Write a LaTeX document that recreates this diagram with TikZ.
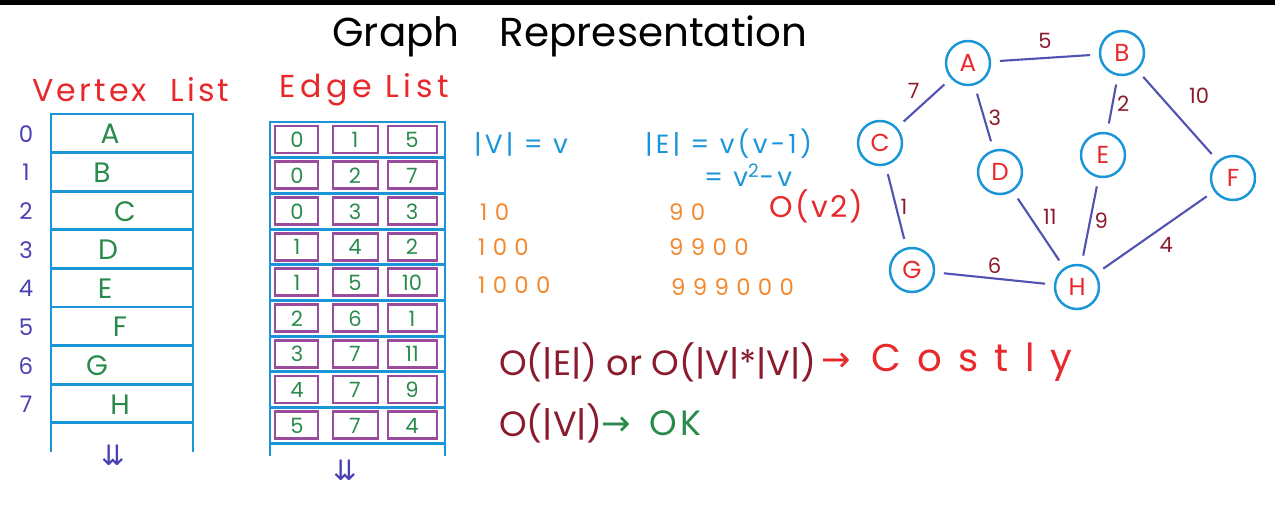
\documentclass[tikz,border=0pt]{standalone}
\usepackage{fontspec}
\setmainfont{Poppins}
\newfontfamily\symfont{DejaVu Sans}
\definecolor{lineblue}{HTML}{1A96D8}
\definecolor{redtxt}{HTML}{E8292B}
\definecolor{greentxt}{HTML}{2A8A4C}
\definecolor{idxblue}{HTML}{4A40B4}
\definecolor{cellpurple}{HTML}{9A4C9C}
\definecolor{orangetxt}{HTML}{F2892E}
\definecolor{darkred}{HTML}{8A1A2C}
\definecolor{edgeblue}{HTML}{5252B2}
\newcommand{\fs}[1]{\fontsize{#1}{#1}\selectfont}
\newcommand{\spc}[1]{\addfontfeature{LetterSpace=#1}}
\tikzset{
  tbl/.style={draw=lineblue, line width=1.6pt},
  cell/.style={draw=cellpurple, line width=1.6pt},
  idx/.style={text=idxblue, font=\fs{13}},
  vname/.style={text=greentxt, font=\fs{16}},
  num/.style={text=greentxt, font=\fs{12}},
  head/.style={text=redtxt, font=\fs{18}},
  vtx/.style={circle, draw=lineblue, line width=1.4pt, minimum size=0.88cm, inner sep=0pt, text=redtxt, font=\fs{14}},
  edge/.style={draw=edgeblue, line width=1.2pt, shorten >=5pt, shorten <=5pt},
  wt/.style={text=darkred, font=\fs{12}, inner sep=2pt},
  cyantxt/.style={text=lineblue, font=\fs{15}\spc{12}, inner sep=1pt},
  orng/.style={text=orangetxt, font=\fs{13}\spc{32}},
  bigo/.style={text=darkred, font=\fs{20}}
}
\begin{document}
\begin{tikzpicture}[x=0.02cm, y=-0.02cm]
  \useasboundingbox (0,0) rectangle (1275,504);
  \fill[black] (0,0) rectangle (1275,5);
  \node[font=\fs{23}] (title) at (570,36) {Graph\quad Representation};

  % vertex list
  \node[head, font=\fs{18}\spc{10}, anchor=west] (vhead) at (26,90) {Vertex\ \ List};
  \draw[tbl] (51,452) -- (51,114) -- (193,114) -- (193,452);
  \foreach \k in {1,...,8}
    \draw[tbl] (51,{114+38.6*\k}) -- (193,{114+38.6*\k});
  \foreach \i/\l/\dx in {0/A/110,1/B/102,2/C/125,3/D/108,4/E/105,5/F/120,6/G/97,7/H/120}{
    \node[idx] (vi\i) at (26,{134+38.6*\i}) {\i};
    \node[vname] (v\i) at (\dx,{134+38.6*\i}) {\l};
  }
  \node[text=idxblue, font=\symfont\fs{16}] (vdown) at (113,455) {⇊};

  % edge list
  \node[head, font=\fs{18}\spc{15}, anchor=west] (ehead) at (273,90) {Edge\ List};
  \draw[tbl] (270,456) -- (270,122) -- (445,122) -- (445,456);
  \foreach \k in {1,...,9}
    \draw[tbl] (270,{122+35.7*\k}) -- (445,{122+35.7*\k});
  \foreach \r/\a/\b/\c in {0/0/1/5,1/0/2/7,2/0/3/3,3/1/4/2,4/1/5/10,5/2/6/1,6/3/7/11,7/4/7/9,8/5/7/4}{
    \draw[cell] (275,{126+35.7*\r}) rectangle (318,{153+35.7*\r});
    \draw[cell] (333,{126+35.7*\r}) rectangle (378,{153+35.7*\r});
    \draw[cell] (388,{126+35.7*\r}) rectangle (437,{153+35.7*\r});
    \node[num] (e\r a) at (297,{140+35.7*\r}) {\a};
    \node[num] (e\r b) at (355,{140+35.7*\r}) {\b};
    \node[num] (e\r c) at (412,{140+35.7*\r}) {\c};
  }
  \node[text=idxblue, font=\symfont\fs{16}] (edown) at (345,470) {⇊};

  % counts
  \node[cyantxt, anchor=west] (nv) at (472,144) {|V|\ =\ v};
  \node[cyantxt, anchor=west] (ne) at (643,144) {|E|\ =\ v(v-1)};
  \node[cyantxt, anchor=west] (ne2) at (702,175) {=\ v\textsuperscript{2}-v};
  \node[text=redtxt, font=\fs{17}\spc{8}, anchor=west] (ov2) at (763,206) {O(v2)};
  \node[orng, anchor=west] (n10) at (474,212) {10};
  \node[orng, anchor=west] (n100) at (472,247) {100};
  \node[orng, anchor=west] (n1000) at (472,285) {1000};
  \node[orng, anchor=west] (m90) at (663,212) {90};
  \node[orng, anchor=west] (m9900) at (663,247) {9900};
  \node[orng, anchor=west] (m999000) at (665,287) {999000};

  % cost
  \node[bigo, anchor=west] (oe) at (493,362) {O(|E|)\ or\ O(|V|*|V|)};
  \node[text=redtxt, font=\fs{22}, anchor=west] (costly) at (815,362) {{\symfont\fs{20}→}\ \ {\spc{42}Costly}};
  \node[bigo, anchor=west] (ov) at (493,423) {O(|V|)};
  \node[text=greentxt, font=\fs{20}, anchor=west] (ok) at (595,423) {{\symfont→}\ \ {\spc{10}OK}};

  % graph
  \node[vtx] (A) at (968,63) {A};
  \node[vtx] (B) at (1122,53) {B};
  \node[vtx] (C) at (880,143) {C};
  \node[vtx] (D) at (1000,172) {D};
  \node[vtx] (E) at (1103,155) {E};
  \node[vtx] (F) at (1233,178) {F};
  \node[vtx] (G) at (912,270) {G};
  \node[vtx] (H) at (1077,287) {H};
  \draw[edge] (A) -- node[wt, above=3pt] {5} (B);
  \draw[edge] (A) -- node[wt, above left] {7} (C);
  \draw[edge] (A) -- node[wt, right] {3} (D);
  \draw[edge] (B) -- node[wt, right] {2} (E);
  \draw[edge] (B) -- node[wt, above right=4pt] {10} (F);
  \draw[edge] (C) -- node[wt, right] {1} (G);
  \draw[edge] (D) -- node[wt, above right] {11} (H);
  \draw[edge] (E) -- node[wt, right] {9} (H);
  \draw[edge] (F) -- node[wt, below right] {4} (H);
  \draw[edge] (G) -- node[wt, above] {6} (H);
\end{tikzpicture}
\end{document}
